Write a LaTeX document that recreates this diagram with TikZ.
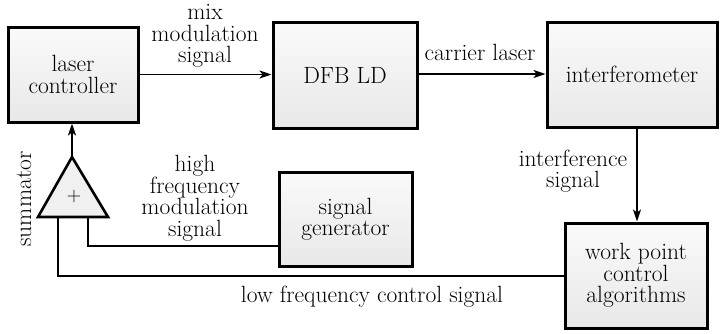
\documentclass[tikz,border=0pt]{standalone}
\usepackage{fontspec}
\setmainfont{Latin Modern Roman}
\usetikzlibrary{arrows.meta,calc}
\begin{document}
\begin{tikzpicture}[x=1pt,y=-1pt,
  box/.style={draw=black,line width=3pt,top color=gray!4,bottom color=gray!18,align=center,inner sep=0pt,
    font=\fontsize{23.5}{21.5}\selectfont},
  lbl/.style={align=center,font=\fontsize{23.5}{21.5}\selectfont,inner sep=0pt},
  wire/.style={line width=1.8pt},
  arr/.style={wire,-{Stealth[length=12pt,width=8pt,inset=3pt]}}]
\useasboundingbox (0,0) rectangle (720,333);
\node[box,minimum width=130pt,minimum height=95pt] (lc) at (73,74.5) {laser\\controller};
\node[box,minimum width=144pt,minimum height=106pt] (dfb) at (345,75) {DFB LD};
\node[box,minimum width=170pt,minimum height=105pt] (intf) at (632,74.5) {interferometer};
\node[box,minimum width=133pt,minimum height=94pt] (sg) at (345.5,219) {signal\\generator};
\node[box,minimum width=142pt,minimum height=105pt] (wp) at (636,275.5) {work point\\control\\algorithms};
% summator triangle
\coordinate (apex) at (72,157);
\coordinate (bl) at (38,217);
\coordinate (br) at (108,217);
\filldraw[line width=2.6pt,fill=gray!12,line join=miter] (apex) -- (br) -- (bl) -- cycle;
\node[lbl,font=\fontsize{20}{20}\selectfont] (plus) at (74,197) {+};
\node[lbl,rotate=90] (summ) at (24,199) {summator};
\coordinate (in1) at (88,217);
\coordinate (in2) at (58,217);
% connectors
\draw[arr] (lc.east) -- (dfb.west|-lc.east);
\draw[arr] (dfb.east|-0,74) -- (intf.west|-0,74);
\draw[arr] (intf.south-|637,0) -- (wp.north-|637,0);
\draw[arr] (apex) -- (lc.south-|apex);
\draw[wire] (in1) |- (sg.west|-0,246);
\draw[wire] (in2) |- (wp.west|-0,276);
% labels
\node[lbl] (l1) at (205,36) {mix\\modulation\\signal};
\node[lbl] (l2) at (480,52) {carrier laser};
\node[lbl] (l3) at (573,171) {interference\\signal};
\node[lbl] (l4) at (195,198) {high\\frequency\\modulation\\signal};
\node[lbl] (l5) at (372,297) {low frequency control signal};
\end{tikzpicture}
\end{document}
